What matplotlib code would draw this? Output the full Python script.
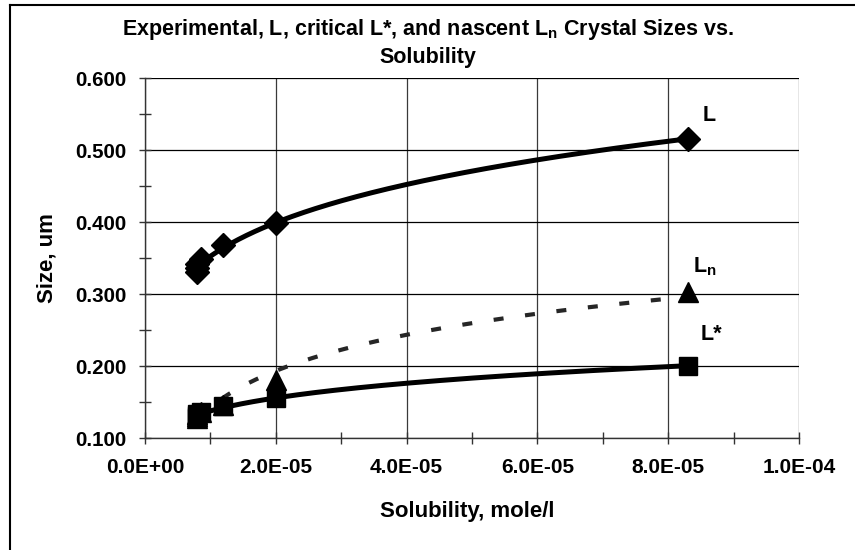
import numpy as np
import matplotlib
matplotlib.use("Agg")
import matplotlib.pyplot as plt
from matplotlib.ticker import MultipleLocator, FuncFormatter

plt.rcParams['font.family'] = ['Liberation Sans', 'DejaVu Sans']
plt.rcParams['font.weight'] = 'bold'
plt.rcParams['mathtext.fontset'] = 'custom'
plt.rcParams['mathtext.rm'] = 'Liberation Sans:bold'
plt.rcParams['mathtext.it'] = 'Liberation Sans:bold'
plt.rcParams['mathtext.bf'] = 'Liberation Sans:bold'

# solubility, mole/l
solubility = [8.0e-6, 8.0e-6, 8.0e-6, 8.5e-6, 1.2e-5, 2.0e-5, 8.3e-5]
# experimental size L, um
size_L = [0.330, 0.336, 0.342, 0.348, 0.368, 0.398, 0.515]
# critical size L*, um
size_Lstar = [0.128, 0.131, 0.134, 0.136, 0.145, 0.155, 0.200]
# nascent size Ln, um (low points hidden behind the squares)
size_Ln = [0.128, 0.131, 0.134, 0.136, 0.146, 0.180, 0.303]

x_ticks = [0.0, 2e-5, 4e-5, 6e-5, 8e-5, 1e-4]
y_ticks = [0.1, 0.2, 0.3, 0.4, 0.5, 0.6]


def power_fit(x, y, xs):
    b, a = np.polyfit(np.log(x), np.log(y), 1)
    return np.exp(a) * xs ** b


def log_fit(x, y, xs):
    b, a = np.polyfit(np.log(x), y, 1)
    return a + b * np.log(xs)


x = np.array(solubility)
xs = np.linspace(x.min(), x.max(), 300)

fig = plt.figure(figsize=(8.55, 5.5), dpi=100)
ax = fig.add_axes([145 / 855, 1 - 438 / 550, 654 / 855, 360 / 550])

# nascent trend (dotted) + markers underneath
ax.plot(xs, log_fit(x, np.array(size_Ln), xs), color='#262626', lw=3,
        linestyle=(0, (2.4, 5.2)), zorder=3)
ax.plot(x, size_Ln, linestyle='none', marker='^', ms=14, color='black', zorder=4)

# experimental and critical power trends
ax.plot(xs, power_fit(x, np.array(size_L), xs), color='black', lw=3.6, zorder=5)
ax.plot(x, size_L, linestyle='none', marker='D', ms=12, color='black', zorder=6)
ax.plot(xs, power_fit(x, np.array(size_Lstar), xs), color='black', lw=3.6, zorder=5)
ax.plot(x, size_Lstar, linestyle='none', marker='s', ms=13.5, color='black', zorder=6)

# data labels
ax.text(8.52e-5, 0.548, 'L', fontsize=15.5, fontweight='bold', va='center', ha='left')
ax.text(8.38e-5, 0.338, r'L$_{n}$', fontsize=15.5, fontweight='bold', va='center', ha='left')
ax.text(8.49e-5, 0.244, 'L*', fontsize=15.5, fontweight='bold', va='center', ha='left')

ax.set_xlim(0, 1e-4)
ax.set_ylim(0.1, 0.6)
ax.set_xticks(x_ticks)
ax.set_yticks(y_ticks)
ax.xaxis.set_minor_locator(MultipleLocator(1e-5))
ax.yaxis.set_minor_locator(MultipleLocator(0.05))
ax.xaxis.set_major_formatter(FuncFormatter(lambda v, p: f"{v:.1E}"))
ax.yaxis.set_major_formatter(FuncFormatter(lambda v, p: f"{v:.3f}"))
ax.tick_params(which='both', direction='inout', length=9, width=1, color='#333333')
ax.tick_params(axis='x', which='major', pad=10, labelsize=15)
ax.tick_params(axis='y', which='major', pad=9, labelsize=14.8)

ax.grid(True, which='major', axis='y', color='black', lw=0.9)
ax.grid(True, which='major', axis='x', color='#3a3a3a', lw=0.9)
for side in ['top', 'right']:
    ax.spines[side].set_visible(False)
for side in ['left', 'bottom']:
    ax.spines[side].set_color('#333333')
    ax.spines[side].set_linewidth(1.0)

ax.set_xlabel('Solubility, mole/l', fontsize=16, fontweight='bold', va='center')
ax.xaxis.set_label_coords((467 - 145) / 654, (438 - 512) / 360)
ax.set_ylabel('Size, um', fontsize=16, fontweight='bold', va='center')
ax.yaxis.set_label_coords((47 - 145) / 654, 0.5)

fig.text(0.5, 1 - 30 / 550,
         r'Experimental, L, critical L*, and nascent L$_{n}$ Crystal Sizes vs.',
         ha='center', va='center', fontsize=15.5, fontweight='bold')
fig.text(0.5, 1 - 57 / 550, 'Solubility', ha='center', va='center',
         fontsize=15.5, fontweight='bold')

# outer chart-area frame (left and top edges visible)
fig.add_artist(plt.Line2D([9.5 / 855, 9.5 / 855], [0, 1 - 4.5 / 550],
                          transform=fig.transFigure, color='black', lw=1.5))
fig.add_artist(plt.Line2D([9.5 / 855, 1], [1 - 4.5 / 550, 1 - 4.5 / 550],
                          transform=fig.transFigure, color='black', lw=1.5))

fig.savefig('out.png', dpi=100)
